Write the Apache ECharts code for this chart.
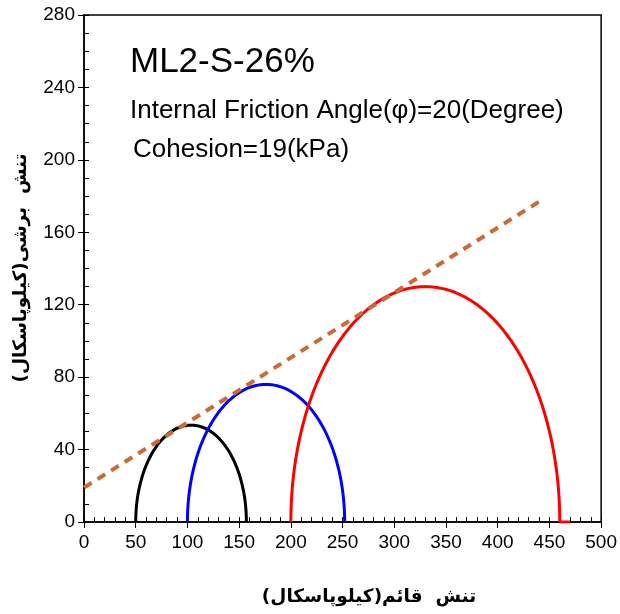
<!DOCTYPE html>
<html>
<head>
<meta charset="utf-8">
<script src="https://cdn.jsdelivr.net/npm/echarts@6/dist/echarts.min.js"></script>
<style>
  html, body { margin: 0; padding: 0; background: #fff; }
  #chart { width: 620px; height: 614px; }
</style>
</head>
<body>
<div id="chart"></div>
<script>
// principal stresses of each test (kPa)
const sigma3 = [50, 100, 200]
const sigma1 = [157, 252, 460]
const circleColors = ['#000000', '#0000FF', '#FF0000']
// short tail at the foot of the last circle
const tailX = [460, 470]
const tailY = [0, 0]
// failure envelope end points
const envelopeX = [0, 443]
const envelopeY = [19, 178]

const FONT = '"Liberation Sans", Arial, sans-serif'
const FA_FONT = '"DejaVu Sans", sans-serif'

// half circle from sigma3 to sigma1
function mohr(s3, s1) {
  const c = (s3 + s1) / 2
  const r = (s1 - s3) / 2
  const pts = []
  for (let i = 0; i <= 180; i++) {
    const a = Math.PI - (i * Math.PI) / 180
    pts.push([c + r * Math.cos(a), r * Math.sin(a)])
  }
  return pts
}

const myChart = echarts.init(document.getElementById('chart'))

const circleSeries = sigma3.map((s3, i) => ({
  type: 'line',
  data: mohr(s3, sigma1[i]),
  showSymbol: false,
  symbol: 'none',
  lineStyle: { color: circleColors[i], width: 3 },
  z: 3
}))

const option = {
  animation: false,
  grid: { left: 84, right: 18, top: 15, bottom: 92, show: true, borderColor: '#000', borderWidth: 1.5, backgroundColor: 'transparent' },
  title: [
    { text: 'ML2-S-26%', left: 125, top: 40, textStyle: { fontFamily: FONT, fontSize: 35, fontWeight: 'normal', color: '#000' } },
    { text: 'Internal Friction Angle(φ)=20(Degree)', left: 125, top: 93, textStyle: { fontFamily: FONT, fontSize: 26, fontWeight: 'normal', color: '#000' } },
    { text: 'Cohesion=19(kPa)', left: 128, top: 132, textStyle: { fontFamily: FONT, fontSize: 26, fontWeight: 'normal', color: '#000' } }
  ],
  graphic: [
    {
      type: 'text', x: 369, y: 597,
      style: { text: 'تنش  قائم(کیلوپاسکال)', font: 'bold 18.5px ' + FA_FONT, fill: '#000', align: 'center', verticalAlign: 'middle' }
    },
    {
      type: 'text', x: 21, y: 268, rotation: Math.PI / 2,
      style: { text: 'تنش  برشی(کیلوپاسکال)', font: 'bold 18.5px ' + FA_FONT, fill: '#000', align: 'center', verticalAlign: 'middle' }
    }
  ],
  xAxis: [
    {
      type: 'value', min: 0, max: 500, interval: 50,
      axisLine: { lineStyle: { color: '#000', width: 1.5 } },
      axisTick: { show: true, length: 6, lineStyle: { color: '#000' } },
      axisLabel: { color: '#000', fontFamily: FONT, fontSize: 19, margin: 11 },
      splitLine: { show: false }
    },
    {
      type: 'value', min: 0, max: 500, interval: 10, position: 'bottom',
      axisLine: { show: false },
      axisTick: { show: true, inside: true, length: 5, lineStyle: { color: '#000' } },
      axisLabel: { show: false },
      splitLine: { show: false }
    }
  ],
  yAxis: [
    {
      type: 'value', min: 0, max: 280, interval: 40,
      axisLine: { show: true, lineStyle: { color: '#000', width: 1.5 } },
      axisTick: { show: true, length: 6, lineStyle: { color: '#000' } },
      axisLabel: { color: '#000', fontFamily: FONT, fontSize: 19, margin: 9 },
      splitLine: { show: false }
    },
    {
      type: 'value', min: 0, max: 280, interval: 10, position: 'left',
      axisLine: { show: false },
      axisTick: { show: true, inside: true, length: 5, lineStyle: { color: '#000' } },
      axisLabel: { show: false },
      splitLine: { show: false }
    }
  ],
  series: [
    ...circleSeries,
    {
      type: 'line',
      data: tailX.map((x, i) => [x, tailY[i]]),
      showSymbol: false,
      symbol: 'none',
      lineStyle: { color: circleColors[2], width: 3 },
      z: 3
    },
    {
      type: 'line',
      data: envelopeX.map((x, i) => [x, envelopeY[i]]),
      showSymbol: false,
      symbol: 'none',
      lineStyle: { color: '#CC6A35', width: 4, type: [9, 7] },
      z: 4
    }
  ]
}
myChart.setOption(option)
</script>
</body>
</html>
